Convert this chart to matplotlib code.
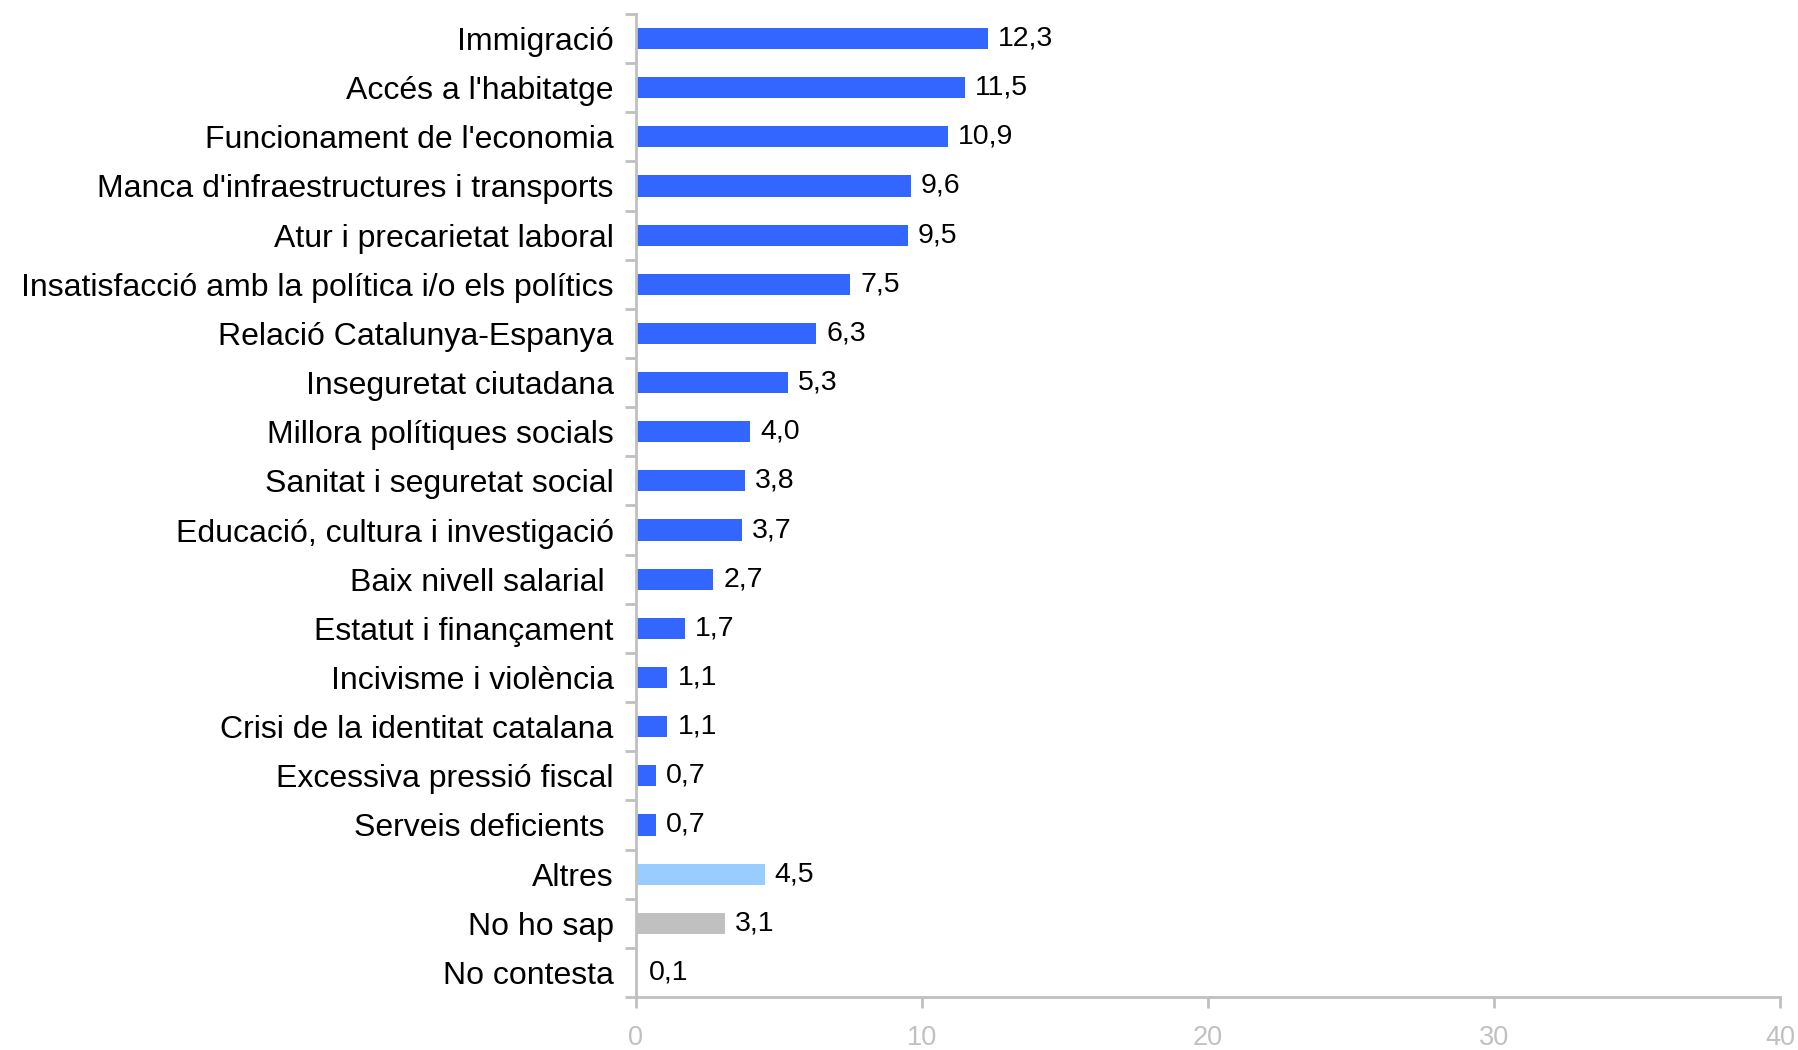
import matplotlib
matplotlib.use("Agg")
import matplotlib.pyplot as plt
import numpy as np

categories = [
    "Immigració",
    "Accés a l'habitatge",
    "Funcionament de l'economia",
    "Manca d'infraestructures i transports",
    "Atur i precarietat laboral",
    "Insatisfacció amb la política i/o els polítics",
    "Relació Catalunya-Espanya",
    "Inseguretat ciutadana",
    "Millora polítiques socials",
    "Sanitat i seguretat social",
    "Educació, cultura i investigació",
    "Baix nivell salarial ",
    "Estatut i finançament",
    "Incivisme i violència",
    "Crisi de la identitat catalana",
    "Excessiva pressió fiscal",
    "Serveis deficients ",
    "Altres",
    "No ho sap",
    "No contesta",
]
values = [12.3, 11.5, 10.9, 9.6, 9.5, 7.5, 6.3, 5.3, 4.0, 3.8, 3.7, 2.7, 1.7,
          1.1, 1.1, 0.7, 0.7, 4.5, 3.1, 0.1]
groups = ["main"] * 17 + ["altres", "nosap", "nc"]
group_colors = {"main": "#3366ff", "altres": "#99ccff", "nosap": "#c0c0c0", "nc": "#ffffff"}
xticks = [0, 10, 20, 30, 40]

plt.rcParams['font.family'] = ['Liberation Sans', 'DejaVu Sans']

fig = plt.figure(figsize=(17.98, 10.50), dpi=100)
ax = fig.add_axes([0.3537, 0.0505, 0.9900 - 0.3537, 0.9867 - 0.0505])

n = len(categories)
y = np.arange(n)
colors = [group_colors[g] for g in groups]
ax.barh(y, values, height=0.43, color=colors, zorder=2)

for yi, v in zip(y, values):
    ax.text(v + 0.35, yi, f"{v:.1f}".replace(".", ","), va="center", ha="left",
            fontsize=20.5, color="black")

ax.set_ylim(n - 0.5, -0.5)
ax.set_xlim(0, 40)
ax.set_xticks(xticks)
ax.set_xticklabels([str(t) for t in xticks], fontsize=19.5, color="#c0c0c0")

# category ticks at boundaries, labels at centers
ax.set_yticks(np.arange(n + 1) - 0.5)
ax.set_yticklabels([])
ax.set_yticks(y, minor=True)
ax.set_yticklabels(categories, minor=True, fontsize=23)
ax.tick_params(axis="y", which="minor", length=0, pad=16)
ax.tick_params(axis="y", which="major", length=8, width=2, color="#c0c0c0")
ax.tick_params(axis="x", length=8, width=2, color="#c0c0c0", pad=12)

for s in ["top", "right"]:
    ax.spines[s].set_visible(False)
for s in ["left", "bottom"]:
    ax.spines[s].set_color("#c0c0c0")
    ax.spines[s].set_linewidth(2)

fig.savefig("out.png", dpi=100)
